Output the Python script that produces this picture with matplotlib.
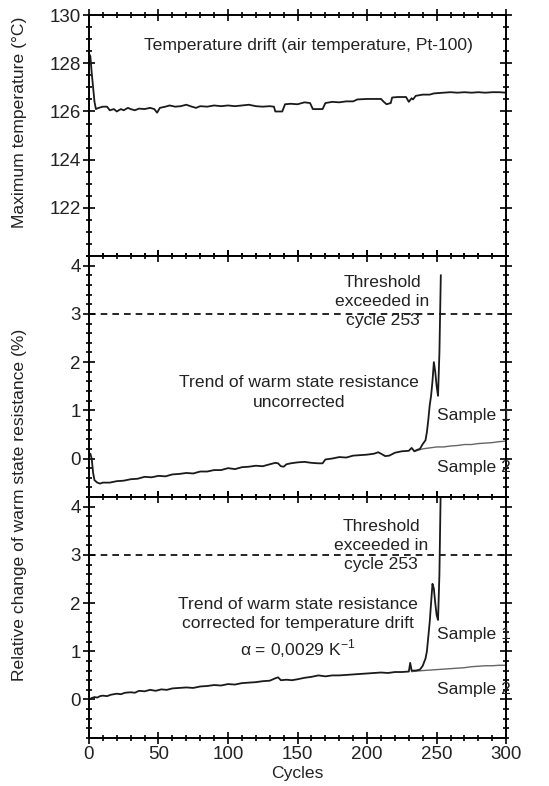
import matplotlib.pyplot as plt
from matplotlib.ticker import MultipleLocator

plt.rcParams['font.family'] = ['Liberation Sans', 'DejaVu Sans']

# temperature drift (air temperature, Pt-100)
temp_x = [0, 1, 2, 3, 4, 5, 7, 10, 13, 15, 18, 20, 23, 25, 28, 30, 33, 36, 40, 44, 47, 49, 51,
          55, 58, 62, 66, 70, 74, 77, 80, 85, 90, 95, 100, 105, 110, 115, 120, 125, 130, 133,
          134, 139, 141, 145, 150, 155, 159, 161, 168, 170, 175, 180, 185, 190, 193, 200, 205,
          210, 212, 214, 217, 218, 222, 228, 230, 232, 233, 235, 240, 245, 248, 255, 260, 265,
          270, 275, 280, 285, 290, 295, 300]
temp_y = [128.4, 128.3, 127.6, 127.0, 126.4, 126.1, 126.15, 126.2, 126.2, 126.05, 126.1, 126.0,
          126.1, 126.05, 126.15, 126.1, 126.05, 126.12, 126.1, 126.15, 126.1, 125.95, 126.15,
          126.2, 126.25, 126.2, 126.22, 126.28, 126.2, 126.15, 126.22, 126.2, 126.25, 126.22,
          126.25, 126.22, 126.25, 126.28, 126.22, 126.2, 126.22, 126.2, 126.0, 126.0, 126.3,
          126.32, 126.3, 126.38, 126.35, 126.1, 126.1, 126.35, 126.4, 126.38, 126.42, 126.42,
          126.5, 126.52, 126.52, 126.52, 126.4, 126.3, 126.35, 126.58, 126.6, 126.6, 126.4,
          126.55, 126.5, 126.65, 126.7, 126.7, 126.75, 126.78, 126.8, 126.78, 126.8, 126.78,
          126.8, 126.78, 126.8, 126.8, 126.78]

# uncorrected warm state resistance, sample 1
unc1_x = [0, 1, 2, 3, 4, 6, 8, 10, 15, 20, 25, 30, 35, 40, 45, 50, 55, 60, 65, 70, 75, 80, 85,
          90, 95, 100, 105, 110, 115, 120, 125, 130, 134, 136, 138, 140, 142, 145, 150, 155, 160,
          165, 168, 170, 175, 180, 185, 190, 195, 200, 205, 208, 210, 213, 216, 220, 225, 230,
          232, 234, 236, 238, 240, 242, 243, 244, 245, 246, 247, 248, 249, 250, 251, 252, 253]
unc1_y = [0.05, 0.1, 0.0, -0.3, -0.45, -0.5, -0.52, -0.5, -0.5, -0.47, -0.46, -0.43, -0.42,
          -0.38, -0.39, -0.36, -0.37, -0.33, -0.32, -0.3, -0.31, -0.27, -0.27, -0.24, -0.24,
          -0.2, -0.22, -0.18, -0.17, -0.15, -0.16, -0.12, -0.09, -0.1, -0.16, -0.17, -0.12,
          -0.1, -0.08, -0.07, -0.09, -0.1, -0.1, -0.02, 0.0, 0.03, 0.02, 0.06, 0.07, 0.08, 0.1,
          0.13, 0.1, 0.05, 0.06, 0.12, 0.15, 0.16, 0.22, 0.15, 0.18, 0.2, 0.3, 0.38, 0.55, 0.8,
          1.1, 1.3, 1.6, 2.0, 1.8, 1.5, 1.3, 2.2, 3.8]

# uncorrected, sample 2 (after the curves separate)
unc2_x = [234, 240, 245, 250, 255, 260, 265, 270, 275, 280, 285, 290, 295, 300]
unc2_y = [0.15, 0.2, 0.22, 0.24, 0.24, 0.26, 0.27, 0.29, 0.29, 0.31, 0.32, 0.33, 0.35, 0.36]

# corrected for temperature drift, sample 1
cor1_x = [0, 2, 4, 6, 8, 10, 13, 16, 20, 23, 26, 30, 33, 36, 40, 44, 48, 52, 56, 60, 65, 70,
          75, 80, 85, 90, 95, 100, 105, 110, 115, 120, 125, 130, 134, 136, 138, 142, 146, 150,
          155, 160, 165, 170, 175, 180, 185, 190, 195, 200, 205, 210, 215, 220, 225, 230, 231,
          232, 235, 238, 240, 242, 243, 244, 245, 246, 247, 248, 249, 250, 251, 252, 253]
cor1_y = [0.0, 0.03, 0.05, 0.04, 0.07, 0.08, 0.07, 0.1, 0.12, 0.11, 0.14, 0.15, 0.14, 0.18,
          0.17, 0.2, 0.18, 0.21, 0.2, 0.23, 0.24, 0.25, 0.24, 0.27, 0.28, 0.3, 0.29, 0.32, 0.31,
          0.34, 0.35, 0.36, 0.38, 0.39, 0.44, 0.46, 0.4, 0.41, 0.4, 0.42, 0.45, 0.47, 0.5, 0.48,
          0.5, 0.5, 0.51, 0.52, 0.53, 0.54, 0.55, 0.56, 0.55, 0.57, 0.57, 0.58, 0.76, 0.6, 0.6,
          0.62, 0.7, 0.85, 1.0, 1.3, 1.6, 2.0, 2.4, 2.3, 2.0, 1.75, 1.65, 2.6, 4.5]

# corrected, sample 2
cor2_x = [232, 240, 245, 250, 255, 260, 265, 270, 275, 280, 285, 290, 295, 300]
cor2_y = [0.58, 0.6, 0.61, 0.62, 0.63, 0.64, 0.65, 0.66, 0.68, 0.69, 0.7, 0.7, 0.71, 0.71]

threshold = 3
fs = 12.6
tc = '#222222'
ls = 1.35

fig = plt.figure(figsize=(5.49, 7.86), dpi=100)
left, width, h, bottom = 0.162, 0.76, 0.3066, 0.061
ax1 = fig.add_axes([left, bottom + 2 * h, width, h])
ax2 = fig.add_axes([left, bottom + h, width, h], sharex=ax1)
ax3 = fig.add_axes([left, bottom, width, h], sharex=ax1)

ax1.plot(temp_x, temp_y, color='#1a1a1a', lw=1.3)
ax1.set_ylim(120, 130)
ax1.set_yticks([122, 124, 126, 128, 130])
ax1.yaxis.set_minor_locator(MultipleLocator(0.5))
ax1.text(158, 128.75, 'Temperature drift (air temperature, Pt-100)', ha='center', va='center',
         fontsize=fs, color=tc)

for ax in (ax2, ax3):
    ax.axhline(threshold, color='black', lw=1.2, ls=(0, (4, 3)))
    ax.set_ylim(-0.8, 4.2)
    ax.set_yticks([0, 1, 2, 3, 4])
    ax.yaxis.set_minor_locator(MultipleLocator(0.2))

ax2.plot(unc2_x, unc2_y, color='#666666', lw=1.0)
ax2.plot(unc1_x, unc1_y, color='#1a1a1a', lw=1.3)
ax2.text(211, 3.26, 'Threshold\nexceeded in\ncycle 253', ha='center', va='center',
         fontsize=fs, color=tc, linespacing=ls)
ax2.text(151, 1.37, 'Trend of warm state resistance\nuncorrected', ha='center', va='center',
         fontsize=fs, color=tc, linespacing=ls)
ax2.text(250, 0.9, 'Sample 1', ha='left', va='center', fontsize=fs, color=tc)
ax2.text(250, -0.18, 'Sample 2', ha='left', va='center', fontsize=fs, color=tc)

ax3.plot(cor2_x, cor2_y, color='#666666', lw=1.0)
ax3.plot(cor1_x, cor1_y, color='#1a1a1a', lw=1.3)
ax3.text(210, 3.2, 'Threshold\nexceeded in\ncycle 253', ha='center', va='center',
         fontsize=fs, color=tc, linespacing=ls)
ax3.text(150, 1.48, 'Trend of warm state resistance\ncorrected for temperature drift\n'
         'α = 0,0029 K$^{\\mathregular{-1}}$', ha='center', va='center',
         fontsize=fs, color=tc, linespacing=ls)
ax3.text(250, 1.34, 'Sample 1', ha='left', va='center', fontsize=fs, color=tc)
ax3.text(250, 0.2, 'Sample 2', ha='left', va='center', fontsize=fs, color=tc)

ax3.set_xlim(0, 300)
ax3.set_xticks([0, 50, 100, 150, 200, 250, 300])
ax3.xaxis.set_minor_locator(MultipleLocator(10))
ax3.set_xlabel('Cycles', fontsize=fs, color=tc, labelpad=2)

for ax in (ax1, ax2, ax3):
    for s in ax.spines.values():
        s.set_linewidth(1.4)
    ax.tick_params(which='both', direction='inout', top=True, right=True, width=1.2,
                   labelsize=13.5, labelcolor=tc, pad=2)
    ax.tick_params(which='major', length=8)
    ax.tick_params(which='minor', length=4)
for ax in (ax1, ax2):
    ax.tick_params(labelbottom=False)

fig.text(0.036, 0.845, 'Maximum temperature (°C)', rotation=90, ha='center',
         va='center', fontsize=fs, color=tc)
fig.text(0.036, 0.358, 'Relative change of warm state resistance (%)', rotation=90,
         ha='center', va='center', fontsize=fs, color=tc)

fig.savefig('out.png', dpi=100)
